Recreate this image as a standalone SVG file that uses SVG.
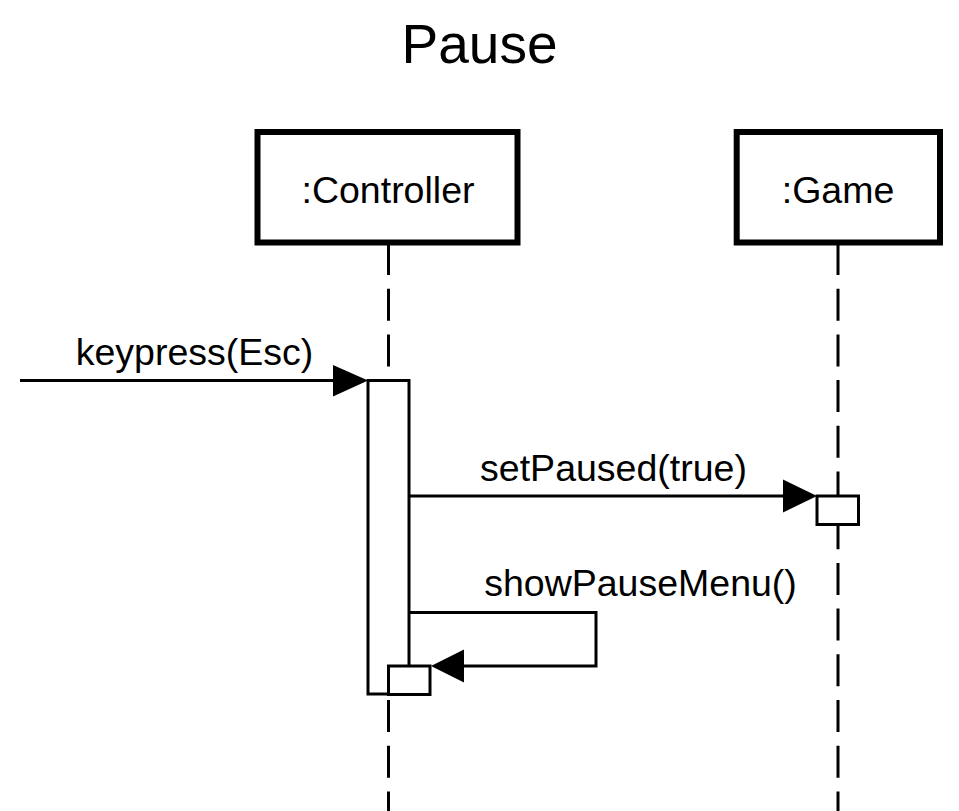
<svg xmlns="http://www.w3.org/2000/svg" width="959" height="811" viewBox="0 0 959 811">
<style>
text{font-family:"Liberation Sans",Arial,sans-serif;fill:#000;text-anchor:middle}
.title{font-size:55px}
.lbl{font-size:37.5px}
.head{fill:#fff;stroke:#000;stroke-width:6}
.life{stroke:#000;stroke-width:3;stroke-dasharray:32 13.7;fill:none}
.act{fill:#fff;stroke:#000;stroke-width:3}
.msg{stroke:#000;stroke-width:3;fill:none}
.arr{fill:#000;stroke:none}
</style>
<rect width="959" height="811" fill="#fff"/>
<text class="title" x="479.5" y="63">Pause</text>
<g id="lifelines">
<line class="life" x1="388.5" y1="243" x2="388.5" y2="811"/>
<line class="life" x1="838" y1="243" x2="838" y2="811"/>
</g>
<g id="controller">
<rect class="head" x="257.5" y="132" width="260" height="110.5"/>
<text class="lbl" x="388" y="203">:Controller</text>
</g>
<g id="game">
<rect class="head" x="736.7" y="132" width="203.3" height="110.5"/>
<text class="lbl" x="838" y="203">:Game</text>
</g>
<g id="controller-activation">
<rect class="act" x="368" y="380.5" width="41" height="313.5"/>
</g>
<g id="game-activation">
<rect class="act" x="817" y="496" width="41.5" height="28.5"/>
</g>
<g id="connectors">
<line class="msg" x1="20" y1="380.5" x2="340" y2="380.5"/>
<polygon class="arr" points="333,365 368,380.5 333,396.5"/>
<text class="lbl" x="194.5" y="365">keypress(Esc)</text>
<line class="msg" x1="409" y1="496" x2="790" y2="496"/>
<polygon class="arr" points="783,479.5 817,496 783,512.5"/>
<text class="lbl" x="613.5" y="481">setPaused(true)</text>
<polyline class="msg" points="409,612.5 596,612.5 596,666 460,666"/>
<polygon class="arr" points="464,649.5 431,666 464,682.5"/>
<text class="lbl" x="640.5" y="596">showPauseMenu()</text>
</g>
<g id="controller-self-activation">
<rect class="act" x="388.5" y="666" width="41.5" height="28.5"/>
</g>
</svg>
